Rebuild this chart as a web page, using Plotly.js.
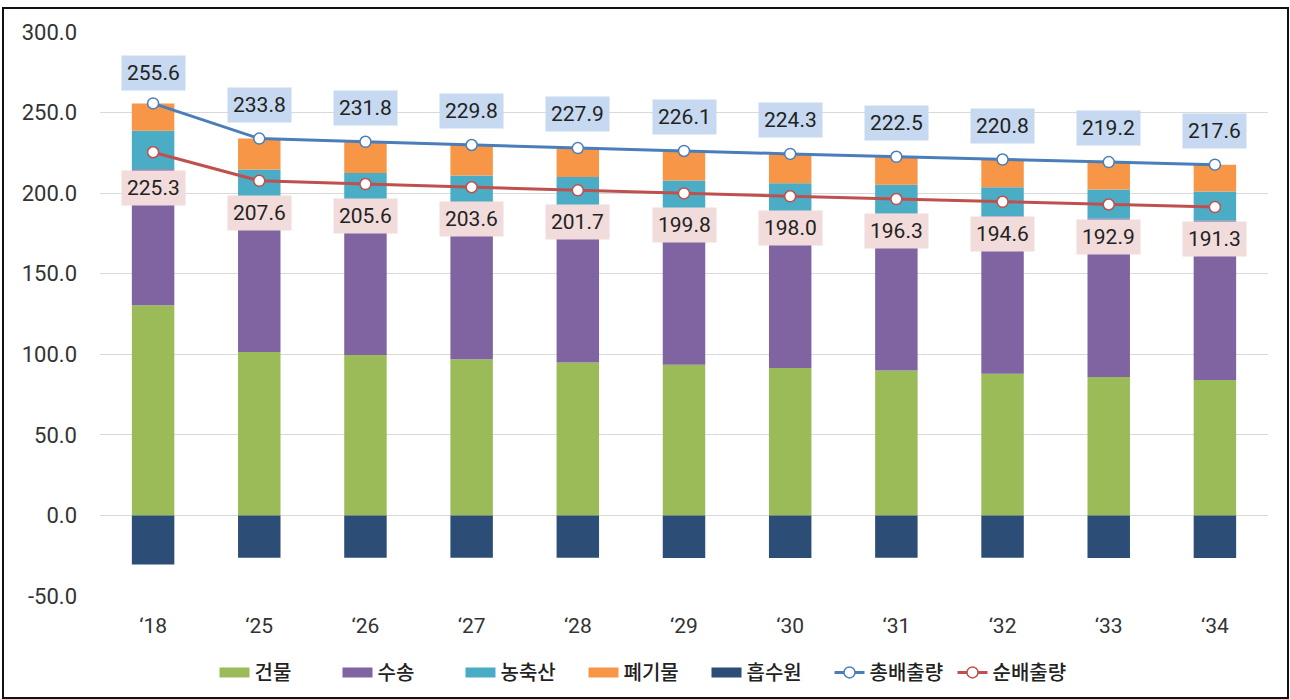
<!DOCTYPE html>
<html>
<head>
<meta charset="utf-8">
<script src="https://cdn.plot.ly/plotly-3.0.1.min.js"></script>
<style>
  body { margin: 0; background: #fff; }
  #chart { width: 1290px; height: 699px; }
  #frame { position: absolute; left: 2px; top: 7px; width: 1283px; height: 688px;
           border: 2px solid #111; pointer-events: none; }
</style>
</head>
<body>
<div id="chart"></div>
<div id="frame"></div>
<script>
"use strict";

var years = ["\u201818", "\u201825", "\u201826", "\u201827", "\u201828", "\u201829",
             "\u201830", "\u201831", "\u201832", "\u201833", "\u201834"];

// 부문별 배출량 (그림에서 읽은 추정값)
var building    = [130.5, 101.4, 99.5, 96.9, 95.0, 93.6, 91.5, 89.9, 88.0, 85.9, 84.1];
var transport   = [84.2, 95.2, 95.0, 96.0, 96.9, 96.2, 96.6, 97.2, 97.6, 98.3, 98.9];
var agriculture = [24.0, 18.0, 18.0, 18.0, 18.0, 18.0, 18.0, 18.0, 18.0, 18.0, 18.0];
var waste       = [16.9, 19.2, 19.3, 18.9, 18.0, 18.3, 18.2, 17.4, 17.2, 17.0, 16.6];
var sink        = [-30.3, -26.2, -26.2, -26.2, -26.2, -26.3, -26.3, -26.2, -26.2, -26.3, -26.3];

var totalEmission = [255.6, 233.8, 231.8, 229.8, 227.9, 226.1, 224.3, 222.5, 220.8, 219.2, 217.6];
var netEmission   = [225.3, 207.6, 205.6, 203.6, 201.7, 199.8, 198.0, 196.3, 194.6, 192.9, 191.3];

var fontFamily = "Roboto, 'Noto Sans CJK KR', sans-serif";
var legendFont = "'Noto Sans CJK KR', sans-serif";

function barTrace(name, values, color){
    return {
        x: years,
        y: values,
        type: "bar",
        name: name,
        marker: {color: color},
        width: 0.4,
        showlegend: false,
        hoverinfo: "y"
    };
}

// 범례용: 엑셀처럼 가로로 긴 색 막대
function legendSwatch(name, color){
    return {
        x: [null],
        y: [null],
        type: "scatter",
        mode: "lines",
        name: name,
        line: {color: color, width: 10},
        hoverinfo: "skip"
    };
}

function lineTrace(name, values, color){
    return {
        x: years,
        y: values,
        type: "scatter",
        mode: "lines+markers",
        name: name,
        line: {color: color, width: 3},
        marker: {color: "#ffffff", size: 11, line: {color: color, width: 1.5}}
    };
}

var barColors = ["#9bbb59", "#8064a2", "#4bacc6", "#f79646", "#2c4d75"];
var barNames = ["건물", "수송", "농축산", "폐기물", "흡수원"];
var barValues = [building, transport, agriculture, waste, sink];

var data = [];
barNames.forEach(function(name, i){
    data.push(barTrace(name, barValues[i], barColors[i]));
});
barNames.forEach(function(name, i){
    data.push(legendSwatch(name, barColors[i]));
});
data.push(lineTrace("총배출량", totalEmission, "#4a7ebb"));
data.push(lineTrace("순배출량", netEmission, "#c0504d"));

var annotations = [];
years.forEach(function(yr, i){
    annotations.push({
        x: yr, y: totalEmission[i], xref: "x", yref: "y",
        text: totalEmission[i].toFixed(1),
        showarrow: false, yshift: i === 0 ? 30 : 34,
        bgcolor: "#c6d9f1", borderpad: 5,
        font: {family: fontFamily, size: 21, color: "#222"}
    });
    annotations.push({
        x: yr, y: netEmission[i], xref: "x", yref: "y",
        text: netEmission[i].toFixed(1),
        showarrow: false, yshift: i === 0 ? -36 : -32,
        bgcolor: "#f2dcdb", borderpad: 5,
        font: {family: fontFamily, size: 21, color: "#222"}
    });
});

var layout = {
    width: 1290,
    height: 699,
    margin: {l: 100, r: 22, t: 31, b: 102, autoexpand: false},
    paper_bgcolor: "#ffffff",
    plot_bgcolor: "#ffffff",
    barmode: "relative",
    font: {family: fontFamily, size: 18, color: "#333"},
    showlegend: true,
    legend: {
        orientation: "h",
        xref: "container", yref: "container",
        x: 0.5, xanchor: "center",
        y: 0.038, yanchor: "middle",
        font: {family: legendFont, size: 20, color: "#222", weight: 500},
        itemwidth: 30,
        entrywidth: 78,
        traceorder: "normal"
    },
    xaxis: {
        type: "category",
        range: [-0.5, 10.5],
        showgrid: false,
        showline: false,
        automargin: false,
        ticks: "",
        ticklabelstandoff: 14,
        tickfont: {size: 21, color: "#333"}
    },
    yaxis: {
        range: [-50.5, 300.5],
        tickvals: [-50, 0, 50, 100, 150, 200, 250, 300],
        ticktext: ["-50.0", "0.0", "50.0", "100.0", "150.0", "200.0", "250.0", "300.0"],
        showgrid: true,
        gridcolor: "#d9d9d9",
        gridwidth: 1,
        zeroline: false,
        showline: false,
        automargin: false,
        ticks: "",
        ticklabelstandoff: 22,
        tickfont: {size: 22, color: "#333"}
    },
    annotations: annotations
};

Plotly.newPlot("chart", data, layout, {displayModeBar: false, staticPlot: true});
</script>
</body>
</html>
